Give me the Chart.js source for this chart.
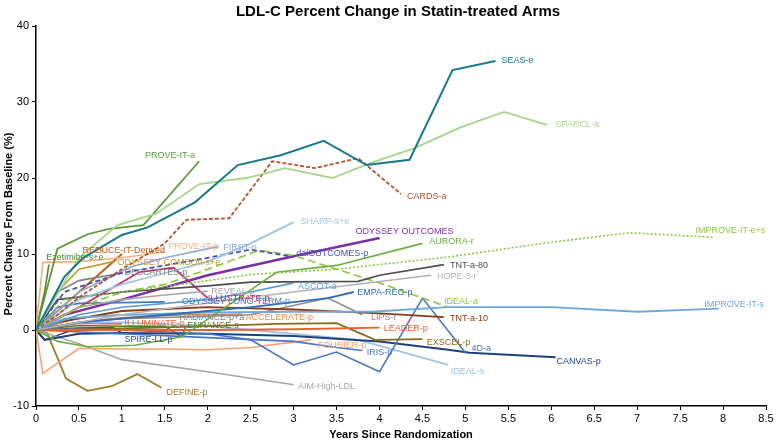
<!DOCTYPE html>
<html><head><meta charset="utf-8">
<script src="https://cdn.jsdelivr.net/npm/chart.js@4"></script>
<style>html,body{margin:0;padding:0;background:#fff}canvas{display:block}</style>
</head><body>
<canvas id="c" width="778" height="442"></canvas>
<script>
// ---- tick values ----
const xTickValues = [0,0.5,1,1.5,2,2.5,3,3.5,4,4.5,5,5.5,6,6.5,7,7.5,8,8.5];
const yTickValues = [-10,0,10,20,30,40];

// ---- series data: [years, % change] ----
const seasE        = [[0,0],[0.33,7],[0.55,9.5],[1,12.5],[1.3,13.5],[1.85,16.8],[2.35,21.7],[2.85,23],[3.35,24.9],[3.85,21.7],[4.35,22.4],[4.85,34.2],[5.35,35.4]];
const sparclA      = [[0,0],[0.5,9.5],[0.95,13.8],[1.4,15.3],[1.9,19.2],[2.45,20],[2.9,21.3],[3.45,20],[3.9,22],[4.4,23.9],[4.95,26.7],[5.45,28.7],[5.95,27]];
const proveItA     = [[0,0],[0.25,10.7],[0.6,12.6],[0.85,13.3],[1.25,13.8],[1.9,22.2]];
const cardsA       = [[0,0],[0.25,2],[0.5,4.3],[1,8],[1.5,11.4],[1.75,14.5],[2.25,14.7],[2.75,22.2],[3.25,21.3],[3.75,22.6],[4.25,17.9]];
const sharpSE      = [[0,0],[0.5,4],[1,6],[1.5,7.5],[2,9],[2.5,11.4],[3,14.2]];
const odysseyOut   = [[0,0],[0.33,2],[1,4],[2,7.2],[3,9.7],[4,12.1]];
const dalOutcomes  = [[0,0],[0.33,5],[0.67,6.3],[1,7.5],[2,9.5],[2.5,10.6],[3,9.6]];
const auroraR      = [[0,0],[0.25,-1.5],[0.6,-2.2],[1.15,-2],[1.7,-0.9],[2.8,7.6],[3.5,8.5],[4.5,11.4]];
const improveItES  = [[0,0],[0.33,4],[1,5],[1.5,5.7],[2.5,7.3],[3.5,8],[4.8,9.6],[5.9,11.4],[6.9,12.8],[7.9,12.2]];
const tntA80       = [[0,0],[0.25,4],[1,5],[2,5.8],[2.5,6.3],[3.75,6.4],[4,7.2],[4.75,8.6]];
const hope3R       = [[0,0],[1,2],[2.5,4.3],[4.6,7.2]];
const ascotA       = [[0,0],[0.5,2],[1,3],[2,4],[2.5,5],[3,6.2]];
const empaRegP     = [[0,0],[0.5,1],[1,1.5],[2,2.5],[2.5,3],[3.4,4.2],[3.7,5]];
const idealA       = [[0,0],[0.5,3],[1,5],[1.5,6],[2,8],[2.6,10.5],[3,9.8],[3.5,8],[4,6.2],[4.8,3]];
const improveItS   = [[0,0],[0.33,1.5],[1,2],[2,2.3],[3,2.4],[3.9,2.4],[4.8,3],[6,3],[7,2.4],[7.95,2.8]];
const tntA10       = [[0,0],[0.25,1],[1,2.5],[2,3],[3,2.7],[4,2.2],[4.75,1.7]];
const lipsF        = [[0,0],[0.5,1],[1,1.5],[2,1.8],[2.5,2],[3.4,4.2],[3.8,2.0]];
const leaderP      = [[0,0],[1,0],[2,0],[3,0.1],[4,0.3]];
const exscelP      = [[0,0],[1,0.2],[2,0.5],[2.8,0.8],[3.5,0.9],[3.95,-1.3],[4.5,-1.2]];
const fourDA       = [[0,0],[0.5,0.3],[1,0],[2,-0.5],[2.5,-1.3],[3,-4.6],[3.5,-2.9],[4,-5.5],[4.5,4.2],[5,-3]];
const irisP        = [[0,0],[1,-0.5],[2,-1],[3,-1.5],[3.5,-2.3],[3.8,-2.7]];
const fourierP     = [[0,0],[0.08,-5.7],[0.5,-2.4],[1,-2.5],[1.5,-2.5],[2,-2.6],[2.5,-2.3],[3.2,-1.3]];
const canvasP      = [[0,0],[0.1,-1.3],[0.5,-0.5],[1,-0.4],[2,-0.5],[3,-0.8],[4,-1.5],[4.8,-2.6],[5.05,-3],[6.05,-3.6]];
const idealS       = [[0,0],[0.5,1],[1,1],[2,0.5],[2.5,0],[3,-0.5],[3.75,-1.3],[4.3,-3],[4.8,-4.6]];
const aimHigh      = [[0,0],[0.5,-1.8],[1,-3.9],[2,-5.5],[3,-7.2]];
const defineP      = [[0,0],[0.13,-0.4],[0.35,-6.4],[0.6,-8],[0.88,-7.4],[1.18,-5.8],[1.46,-7.6]];
const spireLLP     = [[0,0],[0.1,-1.3],[0.5,0.3],[0.9,0.3],[1,-0.4]];
const illuminateP  = [[0,0],[0.5,0.9],[1,0.8]];
const enhanceS     = [[0,0],[0.5,0.6],[1,0.5],[1.5,0.5],[1.7,-0.9],[1.75,0.7]];
const radianceP    = [[0,0],[0.5,1],[1,1.6],[1.67,2.0]];
const accelerateP  = [[0,0],[0.5,1.6],[1,2],[1.5,2],[2,2],[2.4,2.1]];
const revealP      = [[0,0],[0.5,3],[1,4],[1.5,4.6],[2,5.1]];
const illustrateP  = [[0,0],[0.5,3],[1.2,7.6],[1.6,8.2],[2,4.2]];
const descartesP   = [[0,0],[0.25,5],[0.5,6.5],[1,7.5]];
const comboII      = [[0,0],[0.25,5],[0.5,8],[0.9,9]];
const proveItP     = [[0,0],[0.08,8.9],[0.5,9],[1,9.5],[1.5,10.3]];
const firstP       = [[0,0],[0.5,5],[1.1,8.3],[1.5,9.5],[2.13,11]];
const reduceIt     = [[0,0],[1,10]];
const ezetimibe    = [[0,0],[0.1,5],[0.15,8.6]];
const odyLongTerm  = [[0,0],[0.25,3],[0.5,3.5],[1,3.6],[1.5,3.7]];

// ---- series names / styles / label anchors (data units) ----
const seriesDefs = [
  ['SEAS-e', seasE, '#17798A', 2, null, [5.42,35.5]],
  ['SPARCL-a', sparclA, '#A8D48C', 1.8, null, [6.05,27]],
  ['PROVE-IT-a', proveItA, '#5B9B3A', 1.8, null, [1.27,22.9]],
  ['CARDS-a', cardsA, '#B8542C', 1.8, [4,2], [4.32,17.6]],
  ['SHARP-s+e', sharpSE, '#9DC3E6', 1.8, null, [3.08,14.3]],
  ['dalOUTCOMES-p', dalOutcomes, '#4B4FB0', 1.8, [5,3], [3.03,10.1]],
  ['AURORA-r', auroraR, '#6BAF3E', 1.6, null, [4.58,11.6]],
  ['IMPROVE-IT-e+s', improveItES, '#8CC63F', 1.6, [2,2], [7.68,13.1]],
  ['TNT-a-80', tntA80, '#4D4D4D', 1.6, null, [4.82,8.55]],
  ['HOPE-3-r', hope3R, '#B3B3B3', 1.6, null, [4.67,7.1]],
  ['ASCOT-a', ascotA, '#5B9BD5', 1.6, null, [3.05,5.66]],
  ['EMPA-REG-p', empaRegP, '#2F6EB0', 1.8, null, [3.74,4.87]],
  ['IDEAL-a', idealA, '#8CC63F', 1.6, [8,4], [4.75,3.7]],
  ['IMPROVE-IT-s', improveItS, '#6FA8DC', 1.8, null, [7.78,3.4]],
  ['TNT-a-10', tntA10, '#8B3A12', 1.8, null, [4.82,1.45]],
  ['LIPS-f', lipsF, '#8C8C8C', 1.6, null, [3.9,1.7]],
  ['LEADER-p', leaderP, '#E8602C', 1.8, null, [4.05,0.26]],
  ['EXSCEL-p', exscelP, '#8A6A1E', 1.8, null, [4.55,-1.6]],
  ['4D-a', fourDA, '#4A72C4', 1.6, null, [5.07,-2.5]],
  ['IRIS-p', irisP, '#4A72C4', 1.6, null, [3.85,-2.9]],
  ['FOURIER-p', fourierP, '#F5A26E', 1.6, null, [3.28,-2.1]],
  ['CANVAS-p', canvasP, '#203F7A', 2, null, [6.06,-4.1]],
  ['IDEAL-s', idealS, '#9DC3E6', 1.8, null, [4.83,-5.4]],
  ['AIM-High-LDL', aimHigh, '#A6A6A6', 1.6, null, [3.05,-7.4]],
  ['DEFINE-p', defineP, '#A07A2A', 1.8, null, [1.52,-8.2]],
  ['SPIRE-LL-p', spireLLP, '#2B4C8C', 1.6, null, [1.03,-1.3]],
  ['ILLUMINATE-p', illuminateP, '#E2642C', 1.8, null, [1.03,0.8]],
  ['ENHANCE-s', enhanceS, '#4F7A28', 1.6, null, [1.76,0.65]],
  ['RADIANCE-p+a', radianceP, '#808080', 1.6, null, [1.67,1.7]],
  ['ACCELERATE-p', accelerateP, '#F28A3C', 1.6, null, [2.44,1.7]],
  ['REVEAL-p', revealP, '#A6A6A6', 1.6, null, [2.04,5.0]],
  ['ILLUSTRATE-p', illustrateP, '#C0246A', 1.6, null, [2.0,4.1]],
  ['DESCARTES-p', descartesP, '#808080', 1.6, null, [1.03,7.5]],
  ['ODYSSEY COMBOII-s+e', comboII, '#C19A28', 1.6, null, [0.95,8.9]],
  ['PROVE-IT-p', proveItP, '#F4B183', 1.6, null, [1.54,11.05]],
  ['FIRST-p', firstP, '#8EA9DB', 1.6, null, [2.18,10.9]],
  ['REDUCE-IT-Derived', reduceIt, '#C55A11', 2, null, [0.54,10.4]],
  ['Ezetimibe-s+e', ezetimibe, '#548235', 1.6, null, [0.12,9.5]],
  ['ODYSSEY LONG-TERM-p', odyLongTerm, '#3C7DC4', 1.6, null, [1.7,3.7]],
  ['ODYSSEY OUTCOMES', odysseyOut, '#7B2FA5', 2.5, null, [3.72,12.9]]
];

const FONT = "'Liberation Sans', Arial, sans-serif";

const datasets = seriesDefs.map(([name, pts, color, w, dash]) => ({
  label: name,
  data: pts.map(([x, y]) => ({x, y})),
  borderColor: color,
  backgroundColor: color,
  borderWidth: w,
  borderDash: dash || [],
  pointRadius: 0,
  showLine: true,
  fill: false,
  tension: 0
}));

const labelPlugin = {
  id: 'seriesLabels',
  afterDatasetsDraw(chart) {
    const {ctx, scales: {x, y}} = chart;
    ctx.save();
    ctx.font = '9px ' + FONT;
    ctx.textBaseline = 'middle';
    ctx.textAlign = 'left';
    seriesDefs.forEach(([name, , color, , , anchor]) => {
      ctx.fillStyle = color;
      ctx.fillText(name, x.getPixelForValue(anchor[0]), y.getPixelForValue(anchor[1]));
    });
    ctx.restore();
  }
};

const titlePlugin = {
  id: 'texts',
  afterDraw(chart) {
    const {ctx} = chart;
    ctx.save();
    ctx.fillStyle = '#000';
    ctx.textAlign = 'center';
    ctx.textBaseline = 'middle';
    ctx.font = 'bold 15px ' + FONT;
    ctx.fillText('LDL-C Percent Change in Statin-treated Arms', 398, 12);
    ctx.font = 'bold 11px ' + FONT;
    ctx.translate(9, 224);
    ctx.rotate(-Math.PI / 2);
    ctx.fillText('Percent Change From Baseline (%)', 0, 0);
    ctx.restore();
  }
};

new Chart(document.getElementById('c'), {
  type: 'scatter',
  data: {datasets},
  options: {
    responsive: false,
    animation: false,
    layout: {padding: {top: 26, right: 12, left: 0, bottom: 0}},
    plugins: {legend: {display: false}, tooltip: {enabled: false}, title: {display: false}},
    scales: {
      x: {
        type: 'linear', min: 0, max: 8.5,
        afterBuildTicks(s) { s.ticks = xTickValues.map(v => ({value: v})); },
        afterFit(s) { s.height = 36; },
        ticks: {color: '#000', font: {size: 11, family: FONT}, padding: 2, maxRotation: 0, autoSkip: false,
                callback: v => String(v)},
        grid: {display: true, drawOnChartArea: false, drawTicks: true, tickLength: 4, color: '#000', lineWidth: 1},
        border: {display: true, color: '#000', width: 1.5},
        title: {display: true, text: 'Years Since Randomization', color: '#000',
                font: {size: 11, weight: 'bold', family: FONT}, padding: {top: 0, bottom: 0}}
      },
      y: {
        type: 'linear', min: -10, max: 40,
        afterBuildTicks(s) { s.ticks = yTickValues.map(v => ({value: v})); },
        afterFit(s) { s.width = 36; },
        ticks: {color: '#000', font: {size: 11, family: FONT}, padding: 3, callback: v => String(v)},
        grid: {display: true, drawOnChartArea: false, drawTicks: true, tickLength: 4, color: '#000', lineWidth: 1},
        border: {display: true, color: '#000', width: 1.5},
        title: {display: false}
      }
    }
  },
  plugins: [labelPlugin, titlePlugin]
});
</script>
</body></html>
